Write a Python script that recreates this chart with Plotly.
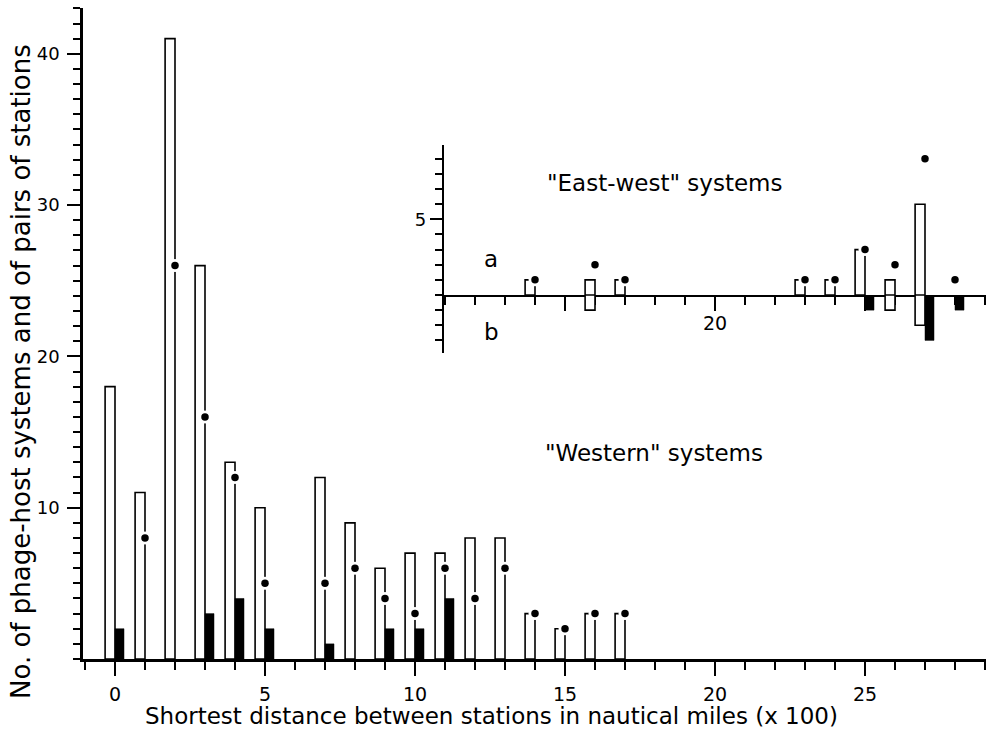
import plotly.graph_objects as go

# ---------------- data ----------------
# "Western" systems (main panel), distance in nautical miles x 100
western_dist = list(range(0, 18))
western_open = [18, 11, 41, 26, 13, 10, None, 12, 9, 6, 7, 7, 8, 8, 3, 2, 3, 3]
western_dots = [None, 8, 26, 16, 12, 5, None, 5, 6, 4, 3, 6, 4, 6, 3, 2, 3, 3]
western_filled = [2, None, None, 3, 4, 2, None, 1, None, 2, 2, 4, None, None, None, None, None, None]

# "East-west" systems (inset): a = above the axis, b = below the axis
ew_dist = [14, 16, 17, 23, 24, 25, 26, 27, 28]
ew_open_a = [1, 1, 1, 1, 1, 3, 1, 6, None]
ew_open_b = [None, 1, None, None, None, None, 1, 2, None]
ew_filled_b = [None, None, None, None, None, 1, None, 3, 1]
ew_dots = [1, 2, 1, 1, 1, 3, 2, 9, 1]

main_yticks = [10, 20, 30, 40]
main_xticks = [0, 5, 10, 15, 20, 25]

x_title = "Shortest distance between stations in nautical miles (x 100)"
y_title = "No. of phage-host systems and of pairs of stations"

# ---------------- layout geometry (pixels) ----------------
W, H = 990, 730
ML, MR, MT, MB = 83, 4, 8, 71
PW, PH = W - ML - MR, H - MT - MB
X0PIX, XPX = 115.0, 30.0       # pixel of x=0, pixels per unit
Y0PIX, YPX = 659.0, 15.13      # pixel of y=0, pixels per unit


def xval(px):
    return (px - X0PIX) / XPX


def xfrac(px):
    return (px - ML) / PW


def yfrac(py):
    return (H - MB - py) / PH


FONT = "DejaVu Sans"
BLACK = "black"
OPEN_OFF, OPEN_W = -0.33, 0.33
FILL_OFF, FILL_W = 0.0, 0.30

fig = go.Figure()


def neg(v):
    return [None if a is None else -a for a in v]


# main panel
fig.add_trace(go.Bar(x=western_dist, y=western_open, offset=OPEN_OFF, width=OPEN_W,
                     marker=dict(color="white", line=dict(color=BLACK, width=1.6)),
                     name="phage-host systems", showlegend=False))
fig.add_trace(go.Bar(x=western_dist, y=western_filled, offset=FILL_OFF, width=FILL_W,
                     marker=dict(color=BLACK, line=dict(color=BLACK, width=0.5)),
                     name="filled", showlegend=False))
fig.add_trace(go.Scatter(x=western_dist, y=western_dots, mode="markers",
                         marker=dict(size=13, color="white"), showlegend=False,
                         hoverinfo="skip"))
fig.add_trace(go.Scatter(x=western_dist, y=western_dots, mode="markers",
                         marker=dict(size=7.5, color=BLACK), name="pairs of stations",
                         showlegend=False))

# inset panel, upper part (a)
fig.add_trace(go.Bar(x=ew_dist, y=ew_open_a, offset=OPEN_OFF, width=OPEN_W,
                     xaxis="x2", yaxis="y2",
                     marker=dict(color="white", line=dict(color=BLACK, width=1.6)),
                     showlegend=False))
fig.add_trace(go.Scatter(x=ew_dist, y=ew_dots, mode="markers", xaxis="x2", yaxis="y2",
                         marker=dict(size=13, color="white"), showlegend=False,
                         hoverinfo="skip"))
fig.add_trace(go.Scatter(x=ew_dist, y=ew_dots, mode="markers", xaxis="x2", yaxis="y2",
                         marker=dict(size=7.5, color=BLACK), showlegend=False))
# inset panel, lower part (b)
fig.add_trace(go.Bar(x=ew_dist, y=neg(ew_open_b), offset=OPEN_OFF, width=OPEN_W,
                     xaxis="x2", yaxis="y3",
                     marker=dict(color="white", line=dict(color=BLACK, width=1.6)),
                     showlegend=False))
fig.add_trace(go.Bar(x=ew_dist, y=neg(ew_filled_b), offset=FILL_OFF, width=FILL_W,
                     xaxis="x2", yaxis="y3",
                     marker=dict(color=BLACK, line=dict(color=BLACK, width=0.5)),
                     showlegend=False))

tickfont = dict(family=FONT, size=19, color=BLACK)

inset_left, inset_right = 444, 986
inset_top, inset_zero, inset_bottom = 145, 295, 353

fig.update_layout(
    width=W, height=H,
    margin=dict(l=ML, r=MR, t=MT, b=MB, pad=0),
    paper_bgcolor="white", plot_bgcolor="rgba(0,0,0,0)",
    barmode="overlay", showlegend=False,
    font=dict(family=FONT, color=BLACK),
    xaxis=dict(
        domain=[0, 1], range=[xval(ML), xval(W - MR)],
        showgrid=False, zeroline=False, showline=True, linecolor=BLACK, linewidth=2.5,
        ticks="outside", tickmode="array", tickvals=main_xticks, ticklen=14,
        tickwidth=1.8, tickcolor=BLACK, tickfont=tickfont, ticklabelstandoff=2,
        minor=dict(ticks="outside", tickmode="linear", tick0=0, dtick=1, ticklen=8,
                   tickwidth=1.6, tickcolor=BLACK, showgrid=False),
    ),
    yaxis=dict(
        domain=[0, 1], range=[0, PH / YPX],
        showgrid=False, zeroline=False, showline=True, linecolor=BLACK, linewidth=2.5,
        ticks="outside", tickmode="array", tickvals=main_yticks, ticklen=13,
        tickwidth=1.8, tickcolor=BLACK, tickfont=dict(family=FONT, size=18, color=BLACK),
        ticklabelstandoff=4,
        minor=dict(ticks="outside", tickmode="linear", tick0=0, dtick=1, ticklen=7,
                   tickwidth=1.6, tickcolor=BLACK, showgrid=False),
    ),
    xaxis2=dict(
        domain=[xfrac(inset_left), xfrac(inset_right)],
        range=[xval(inset_left), xval(inset_right)],
        anchor="y2", showgrid=False, zeroline=False, showline=True, linecolor=BLACK,
        linewidth=2.2, ticks="outside", tickmode="array", tickvals=[15, 20, 25],
        ticktext=["", "20", ""], ticklen=14, tickwidth=1.8, tickcolor=BLACK,
        tickfont=tickfont, ticklabelstandoff=-4,
        minor=dict(ticks="outside", tickmode="linear", tick0=0, dtick=1, ticklen=8,
                   tickwidth=1.6, tickcolor=BLACK, showgrid=False),
    ),
    yaxis2=dict(
        domain=[yfrac(inset_zero), yfrac(inset_top)],
        range=[0, (inset_zero - inset_top) / YPX],
        anchor="x2", showgrid=False, zeroline=False, showline=True, linecolor=BLACK,
        linewidth=2.2, ticks="outside", tickmode="array", tickvals=[5], ticktext=["5"],
        ticklen=12, tickwidth=1.8, tickcolor=BLACK,
        tickfont=dict(family=FONT, size=18, color=BLACK), ticklabelstandoff=0,
        minor=dict(ticks="outside", tickmode="linear", tick0=0, dtick=1, ticklen=7,
                   tickwidth=1.6, tickcolor=BLACK, showgrid=False),
    ),
    yaxis3=dict(
        domain=[yfrac(inset_bottom), yfrac(inset_zero)],
        range=[-(inset_bottom - inset_zero) / YPX, 0],
        anchor="x2", showgrid=False, zeroline=False, showline=True, linecolor=BLACK,
        linewidth=2.2, ticks="outside", tickmode="array", tickvals=[], showticklabels=False,
        minor=dict(ticks="outside", tickmode="linear", tick0=0, dtick=1, ticklen=7,
                   tickwidth=1.6, tickcolor=BLACK, showgrid=False),
    ),
)

annots = [
    dict(text=x_title, xref="paper", yref="paper", x=xfrac(143), y=yfrac(716),
         xanchor="left", yanchor="middle", showarrow=False,
         font=dict(family=FONT, size=23, color=BLACK)),
    dict(text=y_title, xref="paper", yref="paper", x=xfrac(21), y=yfrac(372),
         xanchor="center", yanchor="middle", textangle=-90, showarrow=False,
         font=dict(family=FONT, size=26, color=BLACK)),
    dict(text='"Western" systems', xref="x", yref="y", x=xval(653.5),
         y=(Y0PIX - 453) / YPX, showarrow=False,
         font=dict(family=FONT, size=23, color=BLACK)),
    dict(text='"East-west" systems', xref="x2", yref="y2", x=xval(665),
         y=(inset_zero - 183) / YPX, showarrow=False,
         font=dict(family=FONT, size=23, color=BLACK)),
    dict(text="a", xref="x2", yref="y2", x=xval(491), y=(inset_zero - 259) / YPX,
         showarrow=False, font=dict(family=FONT, size=23, color=BLACK)),
    dict(text="b", xref="x2", yref="y3", x=xval(491), y=(inset_zero - 332) / YPX,
         showarrow=False, font=dict(family=FONT, size=23, color=BLACK)),
]
fig.update_layout(annotations=annots)

fig.write_html("out.html", config={"displayModeBar": False},
               post_script="document.body.style.margin='0';")
